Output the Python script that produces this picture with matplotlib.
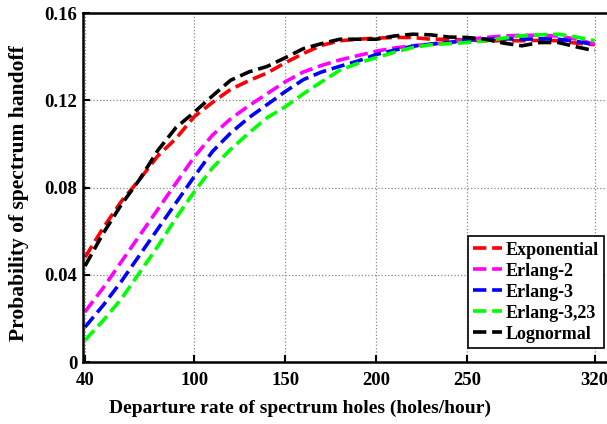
import matplotlib
matplotlib.use('Agg')
import matplotlib.pyplot as plt

plt.rcParams['font.family'] = ['Liberation Serif', 'DejaVu Serif']
plt.rcParams['font.weight'] = 'bold'

# departure rate (holes/hour)
rate = [40, 50, 60, 70, 80, 90, 100, 110, 120, 130, 140, 150, 160, 170, 180,
        190, 200, 210, 220, 230, 240, 250, 260, 270, 280, 290, 300, 310, 320]

exponential = [0.048, 0.0615, 0.0737, 0.0837, 0.0945, 0.1025, 0.1125, 0.119, 0.125, 0.129,
               0.1325, 0.1372, 0.1415, 0.1452, 0.1473, 0.148, 0.1485, 0.1488, 0.1488, 0.148,
               0.148, 0.1476, 0.1473, 0.1473, 0.1473, 0.1475, 0.1473, 0.1462, 0.1455]
erlang2 = [0.023, 0.034, 0.046, 0.058, 0.070, 0.082, 0.094, 0.104, 0.1115, 0.1175,
           0.123, 0.1285, 0.133, 0.136, 0.1385, 0.1405, 0.1425, 0.144, 0.145, 0.1458,
           0.1465, 0.1478, 0.1488, 0.1495, 0.1498, 0.1498, 0.1495, 0.148, 0.1457]
erlang3 = [0.016, 0.026, 0.037, 0.049, 0.061, 0.073, 0.085, 0.0965, 0.105, 0.112,
           0.118, 0.124, 0.1295, 0.133, 0.1356, 0.138, 0.141, 0.143, 0.1448, 0.1458,
           0.1465, 0.1475, 0.148, 0.1482, 0.148, 0.1482, 0.148, 0.147, 0.1455]
erlang323 = [0.010, 0.019, 0.029, 0.041, 0.053, 0.066, 0.078, 0.089, 0.0975, 0.105,
             0.112, 0.117, 0.123, 0.1285, 0.1338, 0.137, 0.1396, 0.142, 0.1442, 0.1455,
             0.146, 0.1465, 0.1473, 0.1485, 0.1496, 0.150, 0.1503, 0.149, 0.1473]
lognormal = [0.044, 0.059, 0.0722, 0.0837, 0.097, 0.1075, 0.1145, 0.122, 0.1292, 0.133,
             0.1355, 0.1395, 0.1437, 0.146, 0.148, 0.148, 0.148, 0.1495, 0.1503, 0.150,
             0.149, 0.1488, 0.148, 0.1462, 0.145, 0.1465, 0.1465, 0.1445, 0.1427]

names = ['Exponential', 'Erlang-2', 'Erlang-3', 'Erlang-3,23', 'Lognormal']
colors = ['#ff0000', '#ff00ff', '#0000ff', '#00ff00', '#000000']
xticks = [40, 100, 150, 200, 250, 320]
yticks = [0, 0.04, 0.08, 0.12, 0.16]
yticklabels = ['0', '0.04', '0.08', '0.12', '0.16']

fig = plt.figure(figsize=(6.07, 4.24), dpi=100)
ax = fig.add_axes([0.1367, 0.1462, 0.885, 0.823])

series = [exponential, erlang2, erlang3, erlang323, lognormal]
for vals, name, c in zip(series, names, colors):
    ax.plot(rate, vals, '--', color=c, lw=2.6, label=name)

ax.set_xlim(38.9, 334)
ax.set_ylim(0, 0.16)
ax.set_xticks(xticks)
ax.set_yticks(yticks)
ax.set_yticklabels(yticklabels)
ax.tick_params(direction='in', labelsize=13.5, width=1.5, length=5)
ax.tick_params(axis='x', pad=7)
ax.tick_params(axis='y', pad=4)
ax.grid(True, linestyle=':', color='#888888', lw=0.9)
for s in ax.spines.values():
    s.set_linewidth(1.8)

ax.set_xlabel('Departure rate of spectrum holes (holes/hour)', fontsize=14, fontweight='bold')
ax.xaxis.set_label_coords(0.404, -0.108)
ax.set_ylabel('Probability of spectrum handoff', fontsize=15.5, fontweight='bold')
ax.yaxis.set_label_coords(-0.1, 0.484)

leg = ax.legend(loc='lower right', bbox_to_anchor=(0.97, 0.04), borderaxespad=0, fontsize=13,
                handlelength=1.6, handletextpad=0.2, borderpad=0.3, labelspacing=0.22,
                fancybox=False, framealpha=1, edgecolor='black')
leg.get_frame().set_linewidth(1.2)

fig.savefig('out.png', dpi=100)
